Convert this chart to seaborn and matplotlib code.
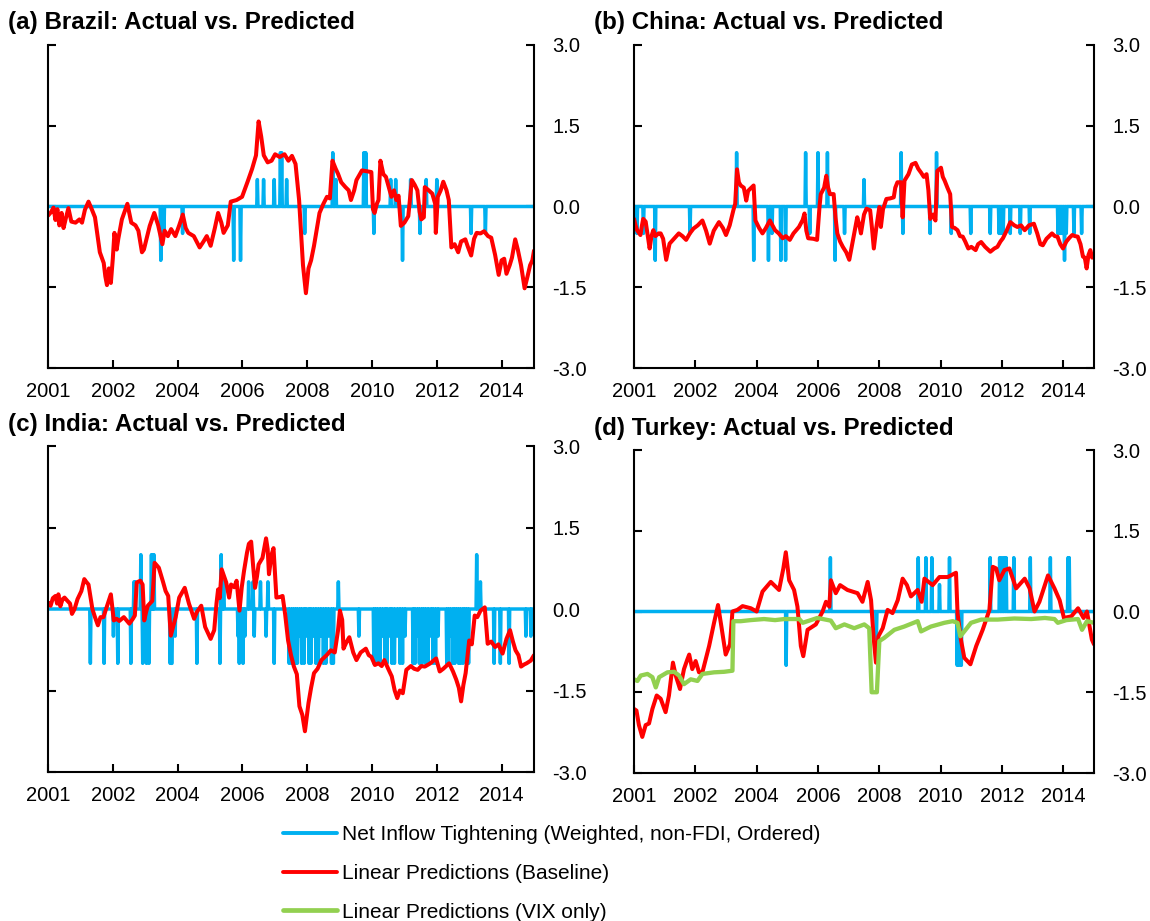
import numpy as np
import pandas as pd
import matplotlib
matplotlib.use("Agg")
import matplotlib.pyplot as plt
import seaborn as sns
from matplotlib.lines import Line2D

# ---------------- data ----------------
x_tick_pos = [2000, 2002, 2004, 2006, 2008, 2010, 2012, 2014]
x_tick_labels = ["2001", "2002", "2004", "2006", "2008", "2010", "2012", "2014"]
y_ticks = [-3.0, -1.5, 0.0, 1.5, 3.0]

titles = ["(a) Brazil: Actual vs. Predicted", "(b) China: Actual vs. Predicted",
          "(c) India: Actual vs. Predicted", "(d) Turkey: Actual vs. Predicted"]
legend_labels = ["Net Inflow Tightening (Weighted, non-FDI, Ordered)",
                 "Linear Predictions (Baseline)",
                 "Linear Predictions (VIX only)"]

brazil_pred = [(2000.00,-0.17),(2000.10,-0.10),(2000.17,-0.02),(2000.23,-0.25),(2000.29,-0.05),(2000.35,-0.35),
    (2000.42,-0.12),(2000.48,-0.40),(2000.55,-0.22),(2000.63,-0.03),(2000.72,-0.28),(2000.85,-0.30),(2000.97,-0.24),
    (2001.05,-0.30),(2001.14,-0.06),(2001.25,0.09),(2001.35,-0.05),(2001.45,-0.20),(2001.6,-0.85),(2001.72,-1.05),
    (2001.77,-1.30),(2001.82,-1.46),(2001.88,-1.15),(2001.94,-1.42),(2002.0,-0.97),(2002.05,-0.49),(2002.12,-0.80),
    (2002.17,-0.60),(2002.28,-0.24),(2002.45,0.05),(2002.57,-0.30),(2002.7,-0.35),(2002.79,-0.45),(2002.9,-0.85),
    (2002.96,-0.80),(2003.14,-0.36),(2003.28,-0.12),(2003.4,-0.35),(2003.53,-0.70),(2003.6,-0.45),(2003.7,-0.55),
    (2003.8,-0.42),(2003.93,-0.55),(2004.05,-0.35),(2004.16,-0.15),(2004.25,-0.40),(2004.33,-0.49),(2004.5,-0.55),
    (2004.68,-0.76),(2004.8,-0.65),(2004.9,-0.55),(2005.02,-0.73),(2005.15,-0.40),(2005.25,-0.12),(2005.35,-0.30),
    (2005.42,-0.49),(2005.55,-0.35),(2005.64,0.09),(2005.82,0.12),(2005.99,0.18),(2006.16,0.46),(2006.3,0.70),
    (2006.42,0.95),(2006.5,1.58),(2006.58,1.30),(2006.66,0.95),(2006.78,0.82),(2006.9,0.85),(2007.01,0.97),
    (2007.15,0.92),(2007.3,0.97),(2007.42,0.85),(2007.53,0.94),(2007.64,0.79),(2007.75,0.12),(2007.87,-1.09),
    (2007.96,-1.61),(2008.04,-1.15),(2008.12,-1.0),(2008.21,-0.73),(2008.38,-0.12),(2008.5,0.05),(2008.61,0.18),
    (2008.7,0.15),(2008.78,0.85),(2008.88,0.70),(2008.95,0.61),(2009.05,0.45),(2009.18,0.36),(2009.28,0.30),
    (2009.35,0.12),(2009.45,0.30),(2009.52,0.49),(2009.69,0.67),(2009.98,0.64),(2010.03,-0.05),(2010.08,-0.12),
    (2010.15,0.05),(2010.2,0.12),(2010.26,0.85),(2010.35,0.60),(2010.43,0.55),(2010.52,0.35),(2010.6,0.18),
    (2010.68,0.30),(2010.75,0.12),(2010.82,0.20),(2010.89,-0.36),(2011.0,-0.30),(2011.12,-0.18),(2011.23,0.49),
    (2011.32,0.40),(2011.4,0.30),(2011.47,-0.10),(2011.52,-0.24),(2011.6,-0.20),(2011.63,0.36),(2011.75,0.30),
    (2011.86,0.24),(2011.95,0.05),(2011.97,-0.49),(2012.03,0.18),(2012.12,0.30),(2012.2,0.46),(2012.3,0.30),
    (2012.37,0.12),(2012.45,-0.76),(2012.55,-0.70),(2012.66,-0.85),(2012.75,-0.65),(2012.88,-0.61),(2012.96,-0.75),
    (2013.06,-0.91),(2013.15,-0.60),(2013.23,-0.49),(2013.35,-0.50),(2013.46,-0.46),(2013.58,-0.55),(2013.68,-0.58),
    (2013.8,-0.90),(2013.91,-1.27),(2014.0,-1.0),(2014.08,-0.97),(2014.15,-1.25),(2014.25,-1.09),(2014.32,-0.95),
    (2014.42,-0.61),(2014.5,-0.80),(2014.6,-1.09),(2014.71,-1.52),(2014.8,-1.30),(2014.88,-1.09),(2014.95,-1.0),
    (2015.0,-0.82)]
brazil_spikes = [(2003.48,-1),(2003.57,-0.5),(2004.16,-0.5),(2005.73,-1),(2005.94,-1),(2006.47,0.5),(2006.65,0.5),
    (2006.99,0.5),(2007.18,1),(2007.22,1),(2007.36,0.5),(2007.92,-0.5),(2008.78,1),(2008.89,0.5),(2009.75,1),
    (2009.8,1),(2010.05,-0.5),(2010.57,0.5),(2010.73,0.5),(2010.95,-1),(2011.2,0.5),(2011.48,-0.5),(2011.68,0.5),
    (2012.0,0.5),(2013.06,-0.5),(2013.5,-0.5)]

china_pred = [(2000.0,-0.23),(2000.05,-0.35),(2000.1,-0.44),(2000.21,-0.53),(2000.26,-0.35),(2000.3,-0.23),
    (2000.38,-0.28),(2000.45,-0.55),(2000.51,-0.78),(2000.57,-0.55),(2000.63,-0.44),(2000.7,-0.55),(2000.8,-0.50),
    (2000.87,-0.50),(2000.95,-0.60),(2001.05,-0.99),(2001.1,-0.85),(2001.16,-0.69),(2001.3,-0.60),(2001.46,-0.50),
    (2001.58,-0.55),(2001.7,-0.62),(2001.82,-0.50),(2001.94,-0.41),(2002.08,-0.35),(2002.23,-0.26),(2002.35,-0.45),
    (2002.47,-0.69),(2002.6,-0.45),(2002.77,-0.29),(2002.9,-0.40),(2003.0,-0.53),(2003.12,-0.35),(2003.24,-0.07),
    (2003.3,0.05),(2003.36,0.69),(2003.42,0.45),(2003.48,0.39),(2003.58,0.35),(2003.66,0.11),(2003.72,0.29),
    (2003.9,0.39),(2003.96,-0.26),(2004.08,-0.40),(2004.19,-0.50),(2004.3,-0.40),(2004.43,-0.26),(2004.6,-0.44),
    (2004.72,-0.50),(2004.85,-0.59),(2004.95,-0.55),(2005.08,-0.62),(2005.2,-0.50),(2005.38,-0.38),(2005.5,-0.25),
    (2005.56,-0.13),(2005.62,-0.45),(2005.68,-0.59),(2005.85,-0.60),(2005.97,-0.62),(2006.05,0.0),(2006.09,0.23),
    (2006.2,0.35),(2006.27,0.57),(2006.33,0.35),(2006.39,0.23),(2006.51,0.23),(2006.57,-0.2),(2006.63,-0.5),
    (2006.72,-0.65),(2006.81,-0.75),(2006.92,-0.85),(2007.02,-0.99),(2007.15,-0.60),(2007.28,-0.2),(2007.35,-0.35),
    (2007.4,-0.5),(2007.5,-0.15),(2007.58,-0.04),(2007.7,-0.07),(2007.76,-0.40),(2007.82,-0.78),(2007.9,-0.40),
    (2008.0,-0.01),(2008.05,-0.38),(2008.12,-0.05),(2008.23,0.14),(2008.35,0.15),(2008.47,0.17),(2008.52,0.35),
    (2008.59,0.45),(2008.71,0.45),(2008.76,-0.2),(2008.82,0.48),(2008.95,0.60),(2009.06,0.78),(2009.18,0.81),
    (2009.27,0.70),(2009.36,0.63),(2009.45,0.55),(2009.54,0.60),(2009.6,0.30),(2009.66,-0.23),(2009.75,-0.15),
    (2009.83,-0.26),(2009.89,0.66),(2010.01,0.72),(2010.07,0.55),(2010.13,0.48),(2010.22,0.35),(2010.31,0.23),
    (2010.37,-0.38),(2010.46,-0.40),(2010.55,-0.44),(2010.63,-0.55),(2010.72,-0.56),(2010.8,-0.65),(2010.9,-0.78),
    (2011.0,-0.75),(2011.14,-0.81),(2011.22,-0.70),(2011.32,-0.66),(2011.45,-0.75),(2011.62,-0.84),(2011.75,-0.78),
    (2011.85,-0.75),(2011.95,-0.65),(2012.03,-0.59),(2012.15,-0.45),(2012.27,-0.29),(2012.4,-0.35),(2012.5,-0.38),
    (2012.62,-0.35),(2012.74,-0.44),(2012.88,-0.35),(2013.04,-0.32),(2013.15,-0.50),(2013.25,-0.70),(2013.33,-0.72),
    (2013.45,-0.60),(2013.63,-0.50),(2013.72,-0.55),(2013.81,-0.56),(2013.9,-0.70),(2013.99,-0.78),(2014.1,-0.65),
    (2014.2,-0.58),(2014.29,-0.53),(2014.38,-0.55),(2014.47,-0.56),(2014.56,-0.70),(2014.64,-0.93),(2014.7,-0.95),
    (2014.76,-1.15),(2014.82,-0.90),(2014.88,-0.81),(2014.94,-0.95),(2015.0,-0.93)]
china_spikes = [(2000.1,-0.5),(2000.3,-0.5),(2000.7,-1),(2001.82,-0.5),(2003.35,1),(2003.9,-1),(2004.39,-1),
    (2004.5,-0.5),(2004.78,-1),(2004.95,-1),(2005.6,1),(2005.74,-0.5),(2006.0,1),(2006.3,1),(2006.55,-1),
    (2006.87,-0.5),(2007.5,0.5),(2008.72,1),(2008.76,-0.5),(2009.65,-0.5),(2009.87,1),(2010.35,-0.5),(2010.99,-0.5),
    (2011.62,-0.5),(2011.91,-0.5),(2011.97,-0.5),(2012.04,-0.5),(2012.27,-0.5),(2012.6,-0.5),(2012.9,-0.5),
    (2013.82,-0.5),(2013.87,-0.5),(2013.93,-0.5),(2013.98,-0.5),(2014.04,-1),(2014.1,-0.5),(2014.35,-0.5),
    (2014.6,-0.5)]

india_pred = [(2000.0,0.12),(2000.08,0.06),(2000.15,0.20),(2000.23,0.24),(2000.28,0.10),(2000.32,0.27),(2000.38,0.05),
    (2000.45,0.18),(2000.51,0.21),(2000.6,0.15),(2000.68,0.10),(2000.74,-0.09),(2000.82,0.0),(2000.91,0.18),
    (2001.03,0.33),(2001.12,0.55),(2001.18,0.50),(2001.25,0.45),(2001.37,0.0),(2001.45,-0.15),(2001.54,-0.30),
    (2001.62,-0.15),(2001.71,-0.15),(2001.82,0.05),(2001.94,0.27),(2002.03,-0.21),(2002.12,-0.18),(2002.2,-0.22),
    (2002.34,-0.15),(2002.51,-0.27),(2002.62,-0.18),(2002.68,-0.12),(2002.74,0.49),(2002.85,0.52),(2002.92,0.45),
    (2002.97,-0.21),(2003.03,-0.05),(2003.08,0.06),(2003.22,0.15),(2003.29,0.85),(2003.42,0.76),(2003.55,0.50),
    (2003.63,0.33),(2003.71,0.24),(2003.79,-0.49),(2003.94,-0.15),(2004.05,0.21),(2004.22,0.39),(2004.35,0.10),
    (2004.51,-0.18),(2004.6,-0.05),(2004.73,0.06),(2004.85,-0.33),(2005.02,-0.55),(2005.13,-0.39),(2005.2,0.10),
    (2005.25,0.36),(2005.3,0.20),(2005.36,0.73),(2005.5,0.49),(2005.59,0.21),(2005.65,0.45),(2005.75,0.40),
    (2005.82,0.52),(2005.91,-0.03),(2005.98,0.40),(2006.05,0.70),(2006.14,1.03),(2006.2,1.20),(2006.27,1.24),
    (2006.33,0.80),(2006.39,0.39),(2006.45,0.60),(2006.5,0.82),(2006.62,0.94),(2006.73,1.30),(2006.78,1.10),
    (2006.82,0.64),(2006.9,1.0),(2006.96,1.12),(2007.05,0.21),(2007.15,0.22),(2007.24,0.24),(2007.32,-0.10),
    (2007.41,-0.58),(2007.5,-0.85),(2007.59,-1.06),(2007.68,-1.20),(2007.76,-1.79),(2007.85,-1.95),(2007.93,-2.25),
    (2008.04,-1.73),(2008.12,-1.45),(2008.21,-1.18),(2008.32,-1.10),(2008.44,-0.94),(2008.6,-0.85),(2008.73,-0.76),
    (2008.85,-0.80),(2008.95,-0.40),(2009.01,-0.03),(2009.08,-0.20),(2009.12,-0.73),(2009.22,-0.60),(2009.3,-0.52),
    (2009.42,-0.80),(2009.52,-0.94),(2009.65,-0.80),(2009.81,-0.73),(2009.9,-0.85),(2009.98,-0.88),(2010.09,-1.03),
    (2010.2,-1.0),(2010.3,-1.05),(2010.38,-0.94),(2010.5,-1.10),(2010.61,-1.24),(2010.7,-1.50),(2010.78,-1.64),
    (2010.86,-1.50),(2010.95,-1.55),(2011.06,-1.12),(2011.2,-1.05),(2011.3,-1.10),(2011.41,-1.12),(2011.52,-1.05),
    (2011.63,-1.06),(2011.8,-1.0),(2011.98,-0.91),(2012.09,-1.15),(2012.2,-1.10),(2012.38,-1.0),(2012.5,-1.15),
    (2012.6,-1.30),(2012.68,-1.45),(2012.75,-1.70),(2012.82,-1.40),(2012.89,-1.18),(2013.0,-0.58),(2013.08,-0.65),
    (2013.17,-0.12),(2013.25,-0.15),(2013.35,-0.03),(2013.48,0.03),(2013.57,-0.64),(2013.68,-0.60),(2013.8,-0.70),
    (2013.9,-0.65),(2014.03,-0.82),(2014.15,-0.55),(2014.26,-0.39),(2014.35,-0.60),(2014.43,-0.76),(2014.52,-0.85),
    (2014.6,-1.06),(2014.7,-1.02),(2014.77,-1.0),(2014.9,-0.95),(2015.0,-0.85)]
india_spikes = [(2001.31,-1),(2001.73,-1),(2002.01,-0.5),(2002.15,-1),(2002.56,-1),(2002.65,0.5),(2002.7,0.5),
    (2002.86,1),(2002.92,-1),(2003.04,-1),(2003.11,-1),(2003.19,1),(2003.23,1),(2003.27,1),(2003.76,-1),(2003.8,-1),
    (2003.83,-1),(2003.93,-0.5),(2004.6,-1),(2005.3,-1),(2005.35,1),(2005.42,0.5),(2005.86,-0.5),(2005.91,-1),
    (2005.96,-0.5),(2006.02,-1),(2006.07,-0.5),(2006.2,0.5),(2006.32,0.5),(2006.36,-0.5),(2006.55,0.5),(2006.73,-0.5),
    (2006.78,0.5),(2006.99,-1),(2007.45,-1),(2007.52,-1),(2007.58,-0.5),(2007.63,-1),(2007.7,-1),(2007.76,-0.5),
    (2007.82,-1),(2007.9,-1),(2007.97,-0.5),(2008.05,-1),(2008.12,-1),(2008.2,-0.5),(2008.26,-1),(2008.35,-1),
    (2008.42,-0.5),(2008.5,-1),(2008.58,-1),(2008.66,-0.5),(2008.75,-1),(2008.81,-1),(2008.96,0.5),(2009.59,-0.5),
    (2010.06,-1),(2010.12,-0.5),(2010.18,-1),(2010.25,-1),(2010.32,-0.5),(2010.4,-1),(2010.47,-1),(2010.55,-0.5),
    (2010.62,-1),(2010.7,-1),(2010.78,-0.5),(2010.86,-1),(2010.94,-1),(2011.02,-0.5),(2011.26,-1),(2011.32,-1),
    (2011.4,-0.5),(2011.46,-1),(2011.54,-1),(2011.6,-0.5),(2011.66,-1),(2011.74,-1),(2011.82,-0.5),(2011.88,-1),
    (2011.96,-1),(2012.04,-0.5),(2012.3,-1),(2012.36,-1),(2012.42,-0.5),(2012.5,-1),(2012.56,-1),(2012.62,-0.5),
    (2012.68,-1),(2012.74,-1),(2012.8,-1),(2012.86,-0.5),(2012.92,-1),(2012.98,-1),(2013.24,1),(2013.35,0.5),
    (2013.77,-1),(2013.97,-1),(2014.23,-1),(2014.75,-0.5),(2014.91,-0.5)]

turkey_pred = [(2000.0,-1.81),(2000.08,-1.84),(2000.16,-2.11),(2000.27,-2.33),(2000.38,-2.11),(2000.49,-2.08),
    (2000.6,-1.81),(2000.74,-1.56),(2000.87,-1.62),(2001.03,-1.87),(2001.14,-1.56),(2001.27,-0.95),(2001.36,-1.19),
    (2001.5,-1.44),(2001.63,-1.07),(2001.74,-0.89),(2001.8,-0.8),(2001.9,-1.07),(2002.01,-0.92),(2002.12,-1.13),
    (2002.23,-1.13),(2002.45,-0.64),(2002.61,-0.21),(2002.74,0.12),(2002.85,-0.28),(2002.99,-0.8),(2003.13,-0.61),
    (2003.21,0.0),(2003.37,0.03),(2003.54,0.1),(2003.81,0.06),(2004.0,0.0),(2004.19,0.37),(2004.46,0.55),
    (2004.73,0.4),(2004.87,0.8),(2004.95,1.1),(2005.06,0.58),(2005.22,0.4),(2005.33,0.09),(2005.44,-0.64),
    (2005.52,-0.83),(2005.66,-0.34),(2005.93,-0.24),(2006.15,0.0),(2006.26,0.18),(2006.37,0.09),(2006.42,0.58),
    (2006.58,0.34),(2006.72,0.49),(2006.96,0.4),(2007.29,0.34),(2007.45,0.18),(2007.62,0.55),(2007.73,0.21),
    (2007.81,-0.46),(2007.89,-0.95),(2007.97,-0.46),(2008.11,-0.31),(2008.27,0.03),(2008.43,-0.03),(2008.6,0.21),
    (2008.76,0.61),(2008.9,0.49),(2009.03,0.28),(2009.25,0.4),(2009.38,0.18),(2009.47,0.61),(2009.74,0.49),
    (2009.96,0.64),(2010.23,0.64),(2010.5,0.72),(2010.55,-0.03),(2010.66,-0.52),(2010.77,-0.86),(2010.97,-0.98),
    (2011.16,-0.64),(2011.37,-0.34),(2011.59,0.03),(2011.7,0.83),(2011.81,0.8),(2011.91,0.58),(2012.08,0.77),
    (2012.24,0.8),(2012.46,0.43),(2012.74,0.61),(2012.9,0.43),(2013.06,0.0),(2013.22,0.18),(2013.5,0.67),
    (2013.71,0.43),(2013.88,0.21),(2014.02,-0.12),(2014.26,-0.09),(2014.48,0.06),(2014.66,-0.12),(2014.77,0.0),
    (2014.93,-0.52),(2015.0,-0.61)]
turkey_vix = [(2000.0,-1.26),(2000.11,-1.29),(2000.22,-1.19),(2000.44,-1.16),(2000.6,-1.22),(2000.71,-1.41),
    (2000.82,-1.22),(2001.09,-1.13),(2001.31,-1.12),(2001.47,-1.19),(2001.63,-1.35),(2001.85,-1.26),(2002.07,-1.29),
    (2002.23,-1.16),(2002.61,-1.13),(2002.94,-1.12),(2003.21,-1.10),(2003.24,-0.18),(2003.48,-0.18),(2003.8,-0.16),
    (2004.24,-0.14),(2004.6,-0.16),(2004.9,-0.14),(2005.39,-0.14),(2005.5,-0.21),(2005.98,-0.12),(2006.42,-0.17),
    (2006.58,-0.31),(2006.86,-0.24),(2007.18,-0.31),(2007.51,-0.24),(2007.67,-0.31),(2007.75,-1.50),(2007.92,-1.50),
    (2008.0,-0.55),(2008.16,-0.49),(2008.49,-0.34),(2008.81,-0.28),(2009.25,-0.18),(2009.36,-0.37),(2009.68,-0.28),
    (2010.12,-0.21),(2010.39,-0.18),(2010.55,-0.21),(2010.64,-0.46),(2010.77,-0.37),(2010.99,-0.21),(2011.32,-0.15),
    (2011.86,-0.15),(2012.4,-0.13),(2012.95,-0.14),(2013.4,-0.12),(2013.71,-0.14),(2013.82,-0.21),(2014.1,-0.16),
    (2014.48,-0.14),(2014.61,-0.34),(2014.77,-0.18),(2015.0,-0.21)]
turkey_spikes = [(2004.97,-1),(2006.4,1),(2007.9,-0.5),(2009.27,1),(2009.52,1),(2009.71,1),(2009.96,0.5),(2010.28,1),
    (2010.53,-1),(2010.6,-1),(2010.68,-1),(2011.61,1),(2011.92,1),(2012.0,1),(2012.08,1),(2012.14,1),(2012.38,1),
    (2012.92,1),(2013.57,1),(2014.15,1),(2014.2,1)]

# ---------------- style ----------------
BLUE = "#00B0F0"
RED = "#FF0000"
GREEN = "#92D050"

sns.set_style("white")
plt.rcParams["font.family"] = ["Liberation Sans", "DejaVu Sans"]
plt.rcParams["axes.unicode_minus"] = False
plt.rcParams["text.color"] = "black"
plt.rcParams["xtick.color"] = "black"
plt.rcParams["ytick.color"] = "black"
plt.rcParams["axes.labelcolor"] = "black"

W, H = 1150, 921
fig = plt.figure(figsize=(W / 100, H / 100), dpi=100)

def box(l, r, t, b):
    return [l / W, 1 - b / H, (r - l) / W, (b - t) / H]

panel_boxes = [box(48, 534, 45, 368), box(634, 1094, 45, 368),
               box(48, 534, 446, 772), box(634, 1094, 450, 773)]
title_pos = [(8, 22), (594, 22), (8, 424), (594, 428)]

weeks = np.arange(0, 15 * 52 + 1) / 52.0 + 2000.0

def spike_frame(spikes):
    vals = np.zeros_like(weeks)
    for yr, v in spikes:
        vals[np.argmin(np.abs(weeks - yr))] = v
    return pd.DataFrame({"year": weeks, "value": vals})

def line_frame(pairs):
    return pd.DataFrame(pairs, columns=["year", "value"])

panels = [(brazil_spikes, brazil_pred, None), (china_spikes, china_pred, None),
          (india_spikes, india_pred, None), (turkey_spikes, turkey_pred, turkey_vix)]

for i, (spk, pred, vix) in enumerate(panels):
    ax = fig.add_axes(panel_boxes[i])
    sns.lineplot(data=spike_frame(spk), x="year", y="value", ax=ax, color=BLUE,
                 lw=2.5, estimator=None, sort=False)
    sns.lineplot(data=line_frame(pred), x="year", y="value", ax=ax, color=RED,
                 lw=2.9, estimator=None, sort=False)
    if vix is not None:
        sns.lineplot(data=line_frame(vix), x="year", y="value", ax=ax, color=GREEN,
                     lw=3.1, estimator=None, sort=False)
    ax.set_xlim(2000, 2015)
    ax.set_ylim(-3, 3)
    ax.set_xlabel("")
    ax.set_ylabel("")
    ax.set_xticks(x_tick_pos)
    ax.set_xticklabels(x_tick_labels)
    ax.set_yticks(y_ticks)
    ax.set_yticklabels([f"{v:.1f}" for v in y_ticks])
    ax.tick_params(axis="y", left=True, right=True, labelleft=False, labelright=True,
                   direction="in", length=6, width=1.5, labelsize=14.5, pad=13,
                   colors="black")
    ax.tick_params(axis="x", bottom=True, direction="in", length=6, width=1.5,
                   labelsize=14.5, pad=10, colors="black")
    ax.spines["top"].set_visible(False)
    for s in ["left", "right", "bottom"]:
        ax.spines[s].set_visible(True)
        ax.spines[s].set_color("black")
        ax.spines[s].set_linewidth(1.5)
    ax.set_facecolor("white")
    tx, ty = title_pos[i]
    fig.text(tx / W, 1 - ty / H, titles[i], ha="left", va="center",
             fontsize=17.4, fontweight="bold", color="black")

handles = [Line2D([], [], color=BLUE, lw=2.8), Line2D([], [], color=RED, lw=2.8),
           Line2D([], [], color=GREEN, lw=3.4)]
fig.legend(handles, legend_labels, loc="upper left", bbox_to_anchor=(283 / W, 1 - 825 / H),
           frameon=False, fontsize=15, handlelength=2.6, handletextpad=0.25,
           labelspacing=0.95, borderaxespad=0, borderpad=0, labelcolor="black")

fig.savefig("out.png", dpi=100, facecolor="white")
